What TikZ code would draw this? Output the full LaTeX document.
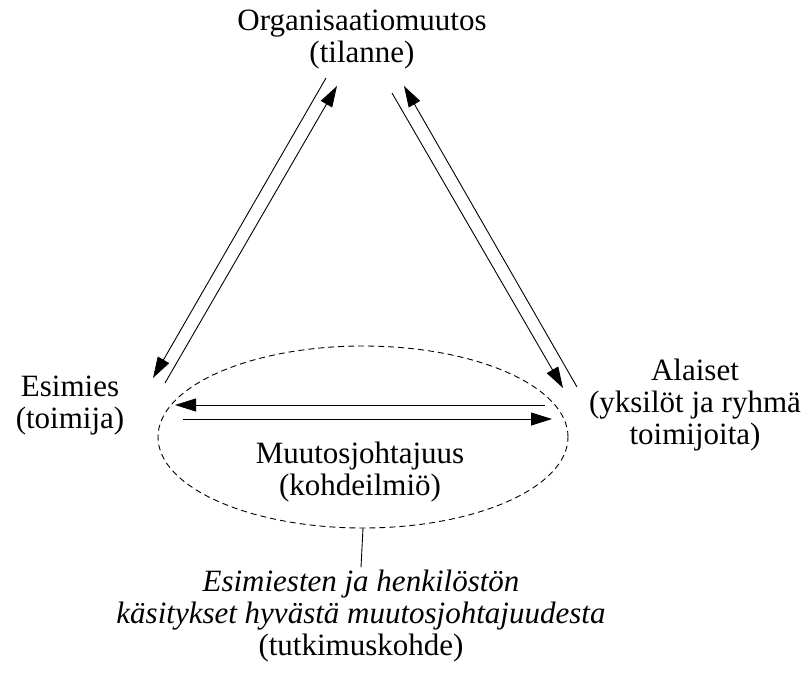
\documentclass[tikz,border=0pt]{standalone}
\usepackage{fontspec}
\setmainfont{Liberation Serif}
\usetikzlibrary{arrows.meta,shapes.geometric}

\begin{document}
\begin{tikzpicture}[
  x=1pt, y=-1pt,
  font=\fontsize{31}{32}\selectfont,
  >={Triangle[length=21pt, width=13pt]},
  label/.style={align=center, anchor=base, inner sep=2pt},
  arrow/.style={->, line width=0.9pt},
  scopebox/.style={draw, dashed, dash pattern=on 6pt off 4pt, ellipse, line width=0.9pt,
    minimum width=410pt, minimum height=182pt, inner sep=0pt, outer sep=0pt}
]
  \useasboundingbox (0,0) rectangle (807,677);

  % the three corners (base = last line)
  \node[label] (org) at (362,63) {Organisaatiomuutos\\(tilanne)};
  \node[label] (esim) at (70,428) {Esimies\\(toimija)};
  \node[label] (alai) at (695,444) {Alaiset\\(yksilöt ja ryhmä\\toimijoita)};

  % phenomenon and research object
  \node[scopebox] (ell) at (363,437) {};
  \node[label] (muut) at (360,495) {Muutosjohtajuus\\(kohdeilmiö)};
  \node[label] (kasit) at (361,655) {\textit{Esimiesten ja henkilöstön}\\ \textit{käsitykset hyvästä muutosjohtajuudesta}\\(tutkimuskohde)};

  % arrow end points
  \coordinate (orgL1) at (326,78);  \coordinate (esimT1) at (153,378);
  \coordinate (esimT2) at (165,383); \coordinate (orgL2) at (337,86);
  \coordinate (orgR1) at (392,93);  \coordinate (alaiT1) at (563,388);
  \coordinate (alaiT2) at (577,387); \coordinate (orgR2) at (404,86);
  \coordinate (alaiL1) at (545,405); \coordinate (esimR1) at (175,405);
  \coordinate (esimR2) at (183,419); \coordinate (alaiL2) at (552,419);

  \draw[arrow] (orgL1) -- (esimT1);
  \draw[arrow] (esimT2) -- (orgL2);
  \draw[arrow] (orgR1) -- (alaiT1);
  \draw[arrow] (alaiT2) -- (orgR2);
  \draw[arrow] (alaiL1) -- (esimR1);
  \draw[arrow] (esimR2) -- (alaiL2);

  \draw[line width=0.9pt] (ell.south) -- (kasit.north);
\end{tikzpicture}
\end{document}
